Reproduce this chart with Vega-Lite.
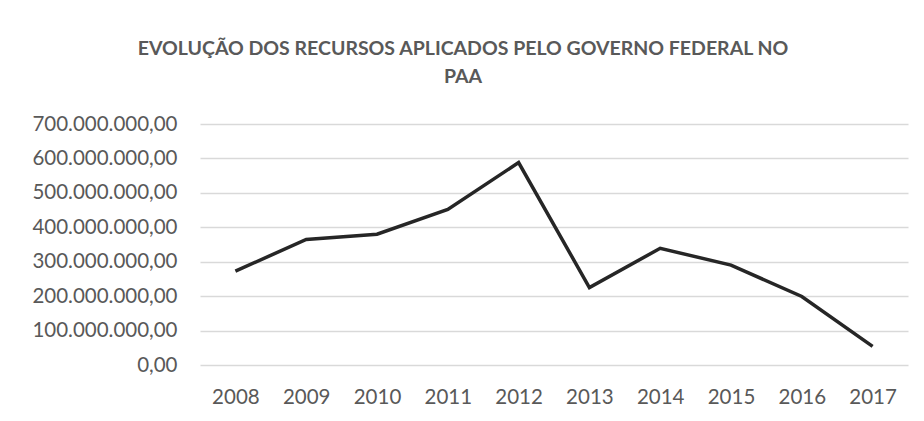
{
  "$schema": "https://vega.github.io/schema/vega-lite/v6.json",
  "width": 708,
  "height": 241,
  "autosize": {"type": "none"},
  "padding": {"left": 200, "top": 124, "right": 16, "bottom": 56},
  "background": "white",
  "title": {
    "text": ["EVOLUÇÃO DOS RECURSOS APLICADOS PELO GOVERNO FEDERAL NO", "PAA"],
    "anchor": "middle",
    "dx": -91,
    "offset": 27,
    "font": "Lato",
    "fontSize": 19.5,
    "fontWeight": "bold",
    "color": "#595959",
    "lineHeight": 28
  },
  "data": {
    "values": [
      {"ano": "2008", "valor": 272500000},
      {"ano": "2009", "valor": 364700000},
      {"ano": "2010", "valor": 380000000},
      {"ano": "2011", "valor": 452000000},
      {"ano": "2012", "valor": 588000000},
      {"ano": "2013", "valor": 225000000},
      {"ano": "2014", "valor": 339000000},
      {"ano": "2015", "valor": 290000000},
      {"ano": "2016", "valor": 199000000},
      {"ano": "2017", "valor": 54000000}
    ]
  },
  "mark": {"type": "line", "color": "#262626", "strokeWidth": 3.5, "strokeJoin": "miter"},
  "encoding": {
    "x": {
      "field": "ano",
      "type": "ordinal",
      "scale": {"type": "point", "padding": 0.5},
      "axis": {"title": null, "labelAngle": 0, "ticks": false, "domain": false, "labelPadding": 22, "grid": false}
    },
    "y": {
      "field": "valor",
      "type": "quantitative",
      "scale": {"domain": [0, 700000000], "nice": false},
      "axis": {"title": null, "values": [0, 100000000, 200000000, 300000000, 400000000, 500000000, 600000000, 700000000], "format": ",.2f", "ticks": false, "domain": false, "labelPadding": 23, "gridColor": "#d9d9d9", "gridWidth": 1.5}
    }
  },
  "config": {
    "locale": {"number": {"decimal": ",", "thousands": ".", "grouping": [3], "currency": ["R$", ""]}},
    "view": {"stroke": null},
    "axis": {"labelFont": "Lato", "labelFontSize": 20.5, "labelColor": "#595959"}
  }
}
